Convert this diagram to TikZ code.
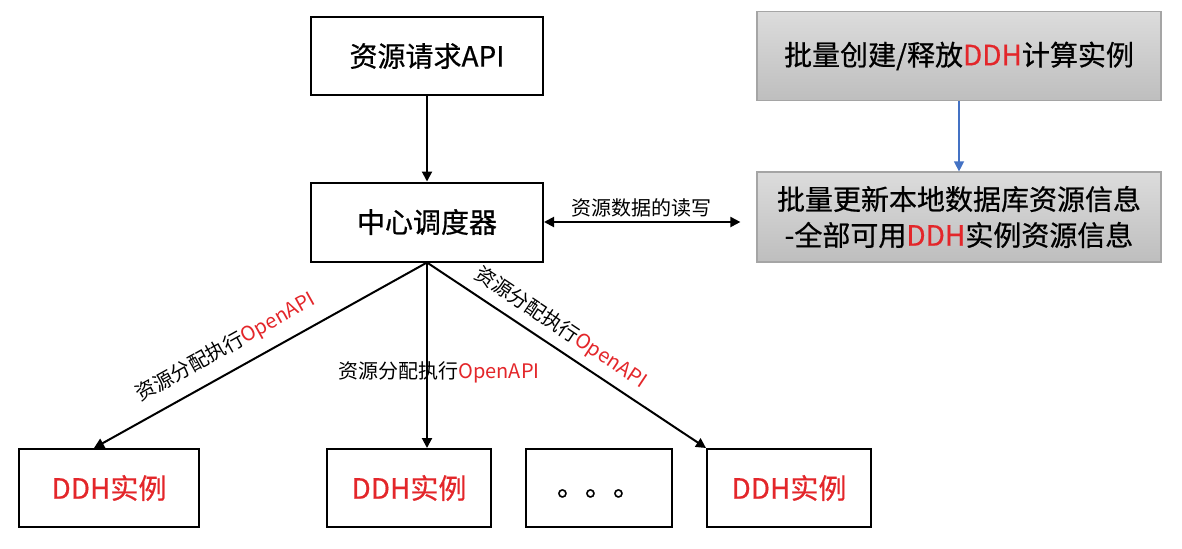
\documentclass[tikz,border=0pt]{standalone}
\usepackage{fontspec}
\usepackage{tikz}
\usetikzlibrary{arrows.meta}
\newfontfamily\cjk{Noto Sans CJK SC}
\newfontfamily\cjkmed[FakeBold=0.6]{Noto Sans CJK SC}
\definecolor{ddhred}{HTML}{E3262A}
\definecolor{linkblue}{HTML}{4472C4}
\definecolor{paneltop}{HTML}{DCDCDC}
\definecolor{panelbot}{HTML}{BEBEBE}
\definecolor{paneledge}{HTML}{A5A5A5}

\begin{document}
\begin{tikzpicture}[x=0.5pt, y=-0.5pt, font=\cjk,
  box/.style={draw=black, line width=1pt, minimum height=39pt, inner sep=0pt, font=\cjkmed\fontsize{14}{18}\selectfont},
  panel/.style={draw=paneledge, line width=0.6pt, top color=paneltop, bottom color=panelbot, minimum width=202pt, inner sep=0pt, align=center, font=\cjkmed\fontsize{14}{18}\selectfont},
  lbl/.style={font=\cjk\fontsize{10}{12}\selectfont, inner sep=2pt},
  link/.style={line width=1pt, -{Triangle[length=5pt,width=5pt]}}]
  \useasboundingbox (0,0) rectangle (1182,548);

  % request and scheduler
  \node[box, minimum width=116pt] (api) at (427,56) {资源请求API};
  \node[box, minimum width=116pt, minimum height=39.5pt] (sched) at (427,222) {中心调度器};

  % batch side
  \node[panel, minimum height=44.5pt] (batch) at (959,56) {批量创建/释放\textcolor{ddhred}{DDH}计算实例};
  \node[panel, minimum height=45pt] (update) at (959,217) {批量更新本地数据库资源信息\\-全部可用\textcolor{ddhred}{DDH}实例资源信息};

  % instances
  \foreach \n/\x/\w in {inst1/109/90pt, inst2/409/82pt, inst4/789/82pt}
    \node[box, minimum width=\w, text=ddhred] (\n) at (\x,488) {DDH实例};
  \node[box, minimum width=73pt] (dots) at (599,488) {\raisebox{-4pt}[0pt][0pt]{。。。}};

  % connectors
  \draw[link] (api.south) -- (sched.north);
  \draw[link, {Triangle[length=5pt,width=5pt]}-{Triangle[length=5pt,width=5pt]}, shorten >=8pt]
    (sched.east) -- node[lbl, above, pos=0.46]{资源数据的读写} (sched.east -| update.west);
  \draw[line width=0.6pt, linkblue, -{Triangle[length=5pt,width=5pt]}] (batch.south) -- (update.north);

  \draw[link] (sched.south) -- node[lbl, sloped, above=4pt, pos=0.57]{资源分配执行\textcolor{ddhred}{OpenAPI}} ([xshift=-7.5pt]inst1.north);
  \draw[link] (sched.south) -- node[lbl, pos=0.59, xshift=6pt]{资源分配执行\textcolor{ddhred}{OpenAPI}} (sched.south |- inst2.north);
  \draw[link] (sched.south) -- node[lbl, sloped, above=2pt, pos=0.44]{资源分配执行\textcolor{ddhred}{OpenAPI}} (inst4.north west);
\end{tikzpicture}
\end{document}
